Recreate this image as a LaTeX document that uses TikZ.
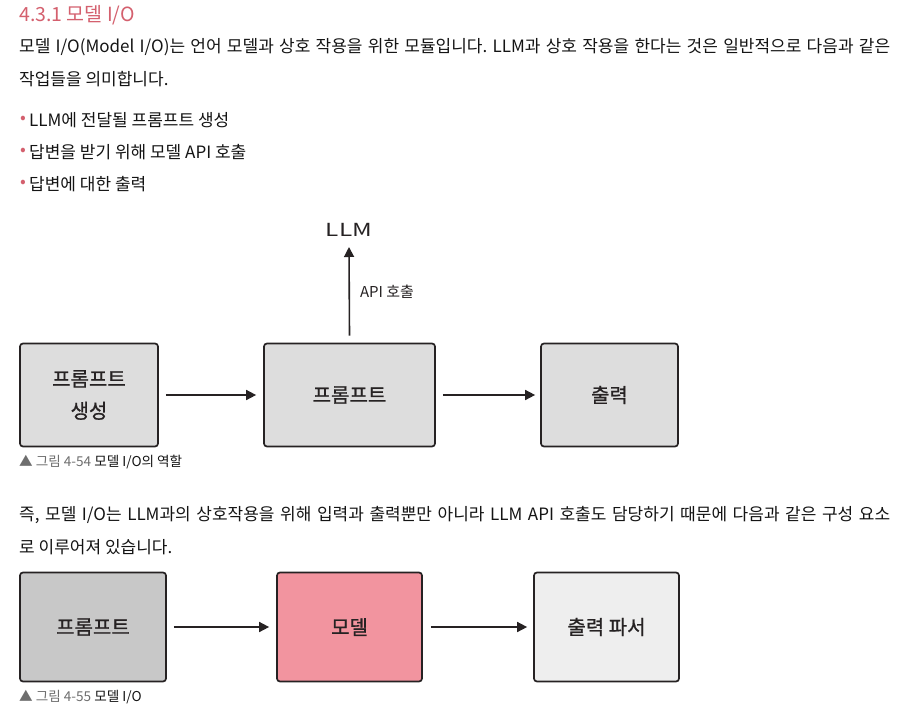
\documentclass[tikz,border=0pt]{standalone}
\usepackage{fontspec}
\setmainfont{Noto Sans CJK KR}
\usetikzlibrary{arrows.meta}
\definecolor{headc}{RGB}{212,96,110}
\definecolor{inkc}{RGB}{38,34,35}
\definecolor{txtc}{RGB}{20,20,20}
\definecolor{capg}{RGB}{110,110,110}
\definecolor{boxa}{RGB}{221,221,221}
\definecolor{boxg}{RGB}{200,200,200}
\definecolor{boxp}{RGB}{242,148,159}
\definecolor{boxl}{RGB}{238,238,238}
\tikzset{
  txt/.style={anchor=west, inner sep=0pt, text=txtc, font=\fontsize{17}{20}\selectfont},
  bul/.style={inner sep=0pt, text=headc, font=\fontsize{17}{20}\selectfont},
  captxt/.style={anchor=west, inner sep=0pt, text=txtc, font=\fontsize{13.6}{16}\selectfont},
  box/.style={draw=inkc, line width=1.7pt, rounded corners=3pt, align=center, text=inkc,
              font=\fontsize{20}{32}\selectfont\addfontfeature{FakeBold=0.9}, inner sep=0pt},
  arr/.style={draw=inkc, line width=1.6pt, -{Triangle[length=10pt,width=10pt]}},
}
\begin{document}
\frenchspacing
\begin{tikzpicture}[x=1pt, y={(0pt,-1pt)}]
\useasboundingbox[fill=white] (0,0) rectangle (910,712);

% heading and text
\node[anchor=west, inner sep=0pt, text=headc, font=\fontsize{19.5}{22}\selectfont] (title) at (19,15) {4.3.1 모델 I/O};
\node[txt] (p1) at (19,47) {\makebox[871pt][s]{모델 I/O(Model I/O)는 언어 모델과 상호 작용을 위한 모듈입니다. LLM과 상호 작용을 한다는 것은 일반적으로 다음과 같은}};
\node[txt] (p2) at (19,79) {작업들을 의미합니다.};
\node[bul] (d1) at (23,120) {•};
\node[txt] (b1) at (29,120) {LLM에 전달될 프롬프트 생성};
\node[bul] (d2) at (23,152) {•};
\node[txt] (b2) at (29,152) {답변을 받기 위해 모델 API 호출};
\node[bul] (d3) at (23,184) {•};
\node[txt] (b3) at (29,184) {답변에 대한 출력};

% diagram 1
\node[inner sep=0pt, text=inkc, font=\fontsize{18}{20}\selectfont] (llm) at (349,230) {\scalebox{1.35}[1]{LLM}};
\node[box, fill=boxa, minimum width=138pt, minimum height=103pt] (gen) at (89,395) {프롬프트\\생성};
\node[box, fill=boxa, minimum width=171pt, minimum height=103pt] (prm) at (349.5,395) {프롬프트};
\node[box, fill=boxa, minimum width=137pt, minimum height=103pt] (out) at (609.5,395) {출력};
\draw[arr] ([yshift=7pt]prm.north) -- node[pos=0.5, anchor=west, xshift=10pt, inner sep=0pt, text=inkc, font=\fontsize{15}{17}\selectfont] (api) {API 호출} ([yshift=-17pt]llm.center);
\draw[arr] ([xshift=7pt]gen.east) -- ([xshift=-7pt]prm.west);
\draw[arr] ([xshift=7pt]prm.east) -- ([xshift=-5pt]out.west);
\node[captxt] (c1) at (19,462) {\textcolor{capg}{▲ 그림 4-54} 모델 I/O의 역할};

% second paragraph
\node[txt] (p3) at (19,515) {\makebox[871pt][s]{즉, 모델 I/O는 LLM과의 상호작용을 위해 입력과 출력뿐만 아니라 LLM API 호출도 담당하기 때문에 다음과 같은 구성 요소}};
\node[txt] (p4) at (19,547) {로 이루어져 있습니다.};

% diagram 2
\node[box, fill=boxg, minimum width=146pt, minimum height=109pt] (q1) at (93,627) {프롬프트};
\node[box, fill=boxp, minimum width=145pt, minimum height=109pt] (q2) at (349.5,627) {모델};
\node[box, fill=boxl, minimum width=145pt, minimum height=109pt] (q3) at (606.5,627) {출력 파서};
\draw[arr] ([xshift=7pt]q1.east) -- ([xshift=-7pt]q2.west);
\draw[arr] ([xshift=8pt]q2.east) -- ([xshift=-6pt]q3.west);
\node[captxt] (c2) at (19,697) {\textcolor{capg}{▲ 그림 4-55} 모델 I/O};
\end{tikzpicture}
\end{document}
